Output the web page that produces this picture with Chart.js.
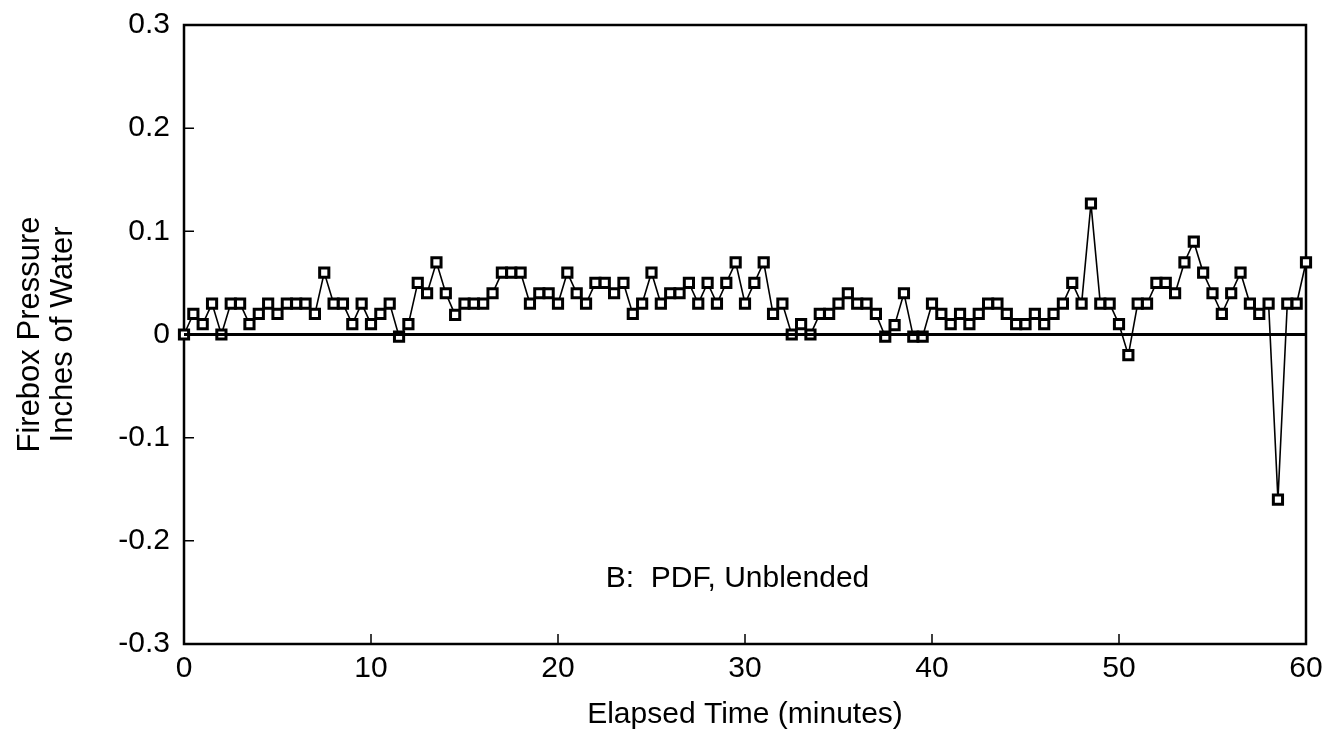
<!DOCTYPE html>
<html><head><meta charset="utf-8">
<script src="https://cdn.jsdelivr.net/npm/chart.js@4.4.0/dist/chart.umd.min.js"></script>
<style>html,body{margin:0;padding:0;background:#fff;} #wrap{width:1323px;height:744px;position:relative;}</style>
</head><body><div id="wrap"><canvas id="c" width="1323" height="744"></canvas></div>
<script>
const elapsedMinutes = [0,0.5,1,1.5,2,2.5,3,3.5,4,4.5,5,5.5,6,6.5,7,7.5,8,8.5,9,9.5,
  10,10.5,11,11.5,12,12.5,13,13.5,14,14.5,15,15.5,16,16.5,17,17.5,18,18.5,19,19.5,
  20,20.5,21,21.5,22,22.5,23,23.5,24,24.5,25,25.5,26,26.5,27,27.5,28,28.5,29,29.5,
  30,30.5,31,31.5,32,32.5,33,33.5,34,34.5,35,35.5,36,36.5,37,37.5,38,38.5,39,39.5,
  40,40.5,41,41.5,42,42.5,43,43.5,44,44.5,45,45.5,46,46.5,47,47.5,48,48.5,49,49.5,
  50,50.5,51,51.5,52,52.5,53,53.5,54,54.5,55,55.5,56,56.5,57,57.5,58,58.5,59,59.5,60];
const fireboxPressure = [0.00,0.02,0.01,0.03,0.00,0.03,0.03,0.01,0.02,0.03,0.02,0.03,0.03,0.03,0.02,0.06,0.03,0.03,0.01,0.03,
  0.01,0.02,0.03,-0.002,0.01,0.05,0.04,0.07,0.04,0.019,0.03,0.03,0.03,0.04,0.06,0.06,0.06,0.03,0.04,0.04,
  0.03,0.06,0.04,0.03,0.05,0.05,0.04,0.05,0.02,0.03,0.06,0.03,0.04,0.04,0.05,0.03,0.05,0.03,0.05,0.07,
  0.03,0.05,0.07,0.02,0.03,0.00,0.01,0.00,0.02,0.02,0.03,0.04,0.03,0.03,0.02,-0.002,0.009,0.04,-0.002,-0.002,
  0.03,0.02,0.01,0.02,0.01,0.02,0.03,0.03,0.02,0.01,0.01,0.02,0.01,0.02,0.03,0.05,0.03,0.127,0.03,0.03,
  0.01,-0.02,0.03,0.03,0.05,0.05,0.04,0.07,0.09,0.06,0.04,0.02,0.04,0.06,0.03,0.02,0.03,-0.16,0.03,0.03,0.07];
const zeroLineX = [0, 60];
const zeroLineY = [0, 0];
const xTickLabels = ['0','10','20','30','40','50','60'];
const yTickValues = [-0.3,-0.2,-0.1,0,0.1,0.2,0.3];
const yTickLabels = ['-0.3','-0.2','-0.1','0','0.1','0.2','0.3'];
const xTitle = 'Elapsed Time (minutes)';
const yTitle = ['Firebox Pressure','Inches of Water'];
const annotationText = 'B:  PDF, Unblended';
const annotationPos = {x: 29.6, y: -0.237};

const FONT = "'Liberation Sans', Arial, Helvetica, sans-serif";
const INK = '#000';

const framePlugin = {
  id: 'frame',
  beforeDatasetsDraw(chart) {
    const {ctx, chartArea: a, scales: {x, y}} = chart;
    ctx.save();
    ctx.strokeStyle = INK;
    ctx.lineWidth = 2.5;
    ctx.strokeRect(a.left, a.top, a.right - a.left, a.bottom - a.top);
    ctx.lineWidth = 1.5;
    ctx.beginPath();
    x.ticks.forEach(t => {
      const px = x.getPixelForValue(t.value);
      if (px > a.left + 2 && px < a.right - 2) { ctx.moveTo(px, a.bottom); ctx.lineTo(px, a.bottom - 10); }
    });
    y.ticks.forEach(t => {
      const py = y.getPixelForValue(t.value);
      if (py > a.top + 2 && py < a.bottom - 2) { ctx.moveTo(a.left, py); ctx.lineTo(a.left + 10, py); }
    });
    ctx.stroke();
    ctx.restore();
  },
  afterDraw(chart) {
    const {ctx, scales: {x, y}} = chart;
    ctx.save();
    ctx.fillStyle = INK;
    ctx.font = '30px ' + FONT;
    ctx.textAlign = 'center';
    ctx.textBaseline = 'middle';
    ctx.fillText(annotationText, x.getPixelForValue(annotationPos.x), y.getPixelForValue(annotationPos.y));
    ctx.restore();
  }
};

new Chart(document.getElementById('c'), {
  type: 'line',
  data: {
    datasets: [
      {
        data: zeroLineX.map((v, i) => ({x: v, y: zeroLineY[i]})),
        borderColor: INK, borderWidth: 3, pointRadius: 0, tension: 0, clip: 4
      },
      {
        data: elapsedMinutes.map((v, i) => ({x: v, y: fireboxPressure[i]})),
        borderColor: INK, borderWidth: 1.6, tension: 0,
        pointStyle: 'rect', pointRadius: 6.5, pointBorderWidth: 3,
        pointBackgroundColor: '#fff', pointBorderColor: INK, clip: 10
      }
    ]
  },
  options: {
    responsive: false, animation: false, devicePixelRatio: 1,
    layout: {padding: {top: 25, right: 0, left: 0, bottom: 0}},
    plugins: {legend: {display: false}, tooltip: {enabled: false}},
    scales: {
      x: {
        type: 'linear', min: 0, max: 60,
        afterFit(s) { s.height = 100; s.paddingRight = 17; s.paddingLeft = 0; },
        afterBuildTicks(s) { s.ticks = xTickLabels.map(l => ({value: Number(l)})); },
        ticks: {color: INK, font: {family: FONT, size: 30}, padding: 7, maxRotation: 0,
          callback: (v) => xTickLabels[xTickLabels.indexOf(String(v))] },
        grid: {display: false, drawTicks: false},
        border: {display: false},
        title: {display: true, text: xTitle, color: INK, font: {family: FONT, size: 30, lineHeight: 1.1}, padding: {top: 0, bottom: 13}}
      },
      y: {
        type: 'linear', min: -0.3, max: 0.3,
        afterFit(s) { s.width = 184; s.paddingTop = 0; s.paddingBottom = 0; },
        afterBuildTicks(s) { s.ticks = yTickValues.map(v => ({value: v})); },
        ticks: {color: INK, font: {family: FONT, size: 30}, padding: 14,
          callback: (v) => yTickLabels[yTickValues.findIndex(t => Math.abs(t - v) < 1e-9)] },
        grid: {display: false, drawTicks: false},
        border: {display: false},
        title: {display: true, text: yTitle, color: INK, font: {family: FONT, size: 31, lineHeight: 1.06}, padding: {top: 14, bottom: 0}}
      }
    }
  },
  plugins: [framePlugin]
});
</script>
</body></html>
